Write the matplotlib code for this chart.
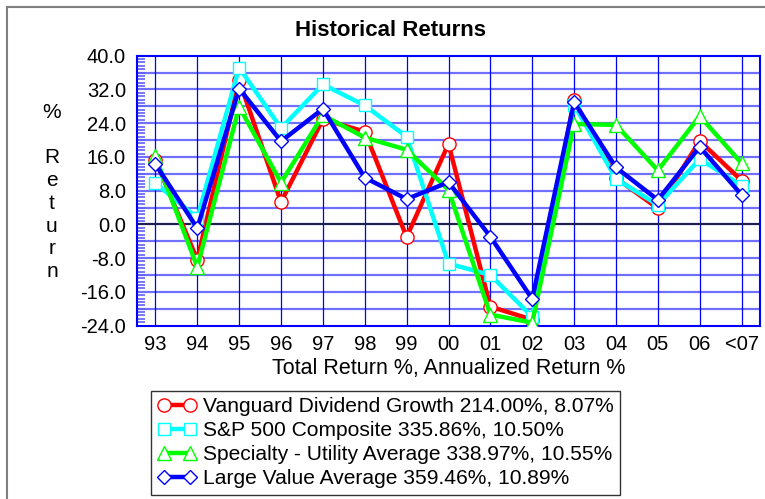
import matplotlib
matplotlib.use("Agg")
import matplotlib.pyplot as plt
from matplotlib.lines import Line2D
from matplotlib.ticker import MultipleLocator
import numpy as np

plt.rcParams['font.family'] = ['Liberation Sans', 'DejaVu Sans']

years = ["93", "94", "95", "96", "97", "98", "99", "00", "01", "02", "03", "04", "05", "06", "<07"]
vanguard = [15.3, -8.4, 34.2, 5.3, 24.9, 22.0, -3.0, 19.1, -19.5, -22.6, 29.5, 11.0, 3.8, 19.8, 10.4]
sp500 = [9.8, 1.5, 37.2, 22.8, 33.2, 28.2, 20.8, -9.3, -12.0, -21.9, 28.4, 10.8, 4.6, 15.5, 9.2]
utility = [16.1, -10.1, 27.9, 9.9, 25.9, 20.6, 17.7, 8.2, -21.4, -23.3, 23.8, 23.6, 12.8, 25.7, 14.5]
large_value = [14.3, -0.9, 32.2, 19.7, 27.4, 11.1, 6.0, 10.0, -2.9, -17.7, 29.0, 13.5, 5.8, 18.4, 7.0]

series = [
    ("Vanguard Dividend Growth 214.00%, 8.07%", vanguard, "#ff0000", "o", 9.5),
    ("S&P 500 Composite 335.86%, 10.50%", sp500, "#00ffff", "s", 9.0),
    ("Specialty - Utility Average 338.97%, 10.55%", utility, "#00ff00", "^", 10.0),
    ("Large Value Average 359.46%, 10.89%", large_value, "#0000ff", "D", 7.5),
]

W, H = 765, 499
fig = plt.figure(figsize=(W / 100, H / 100), dpi=100)
ax = fig.add_axes([137 / W, 1 - 325.6 / H, (760 - 137) / W, (325.6 - 55.7) / H])

x = np.arange(len(years))
for label, vals, col, mk, ms in series:
    ax.plot(x, vals, color=col, lw=3.2, marker=mk, ms=ms, mfc="white", mec=col,
            mew=1.0, label=label, zorder=3, solid_joinstyle="miter")

ax.set_xlim(-0.44, len(years) - 1 + 0.44)
ax.set_ylim(-24, 40)
ax.set_xticks(x)
ax.set_xticklabels(years, fontsize=14.5)
ax.set_yticks(np.arange(-24, 40.1, 8))
ax.set_yticklabels([f"{v:.1f}" for v in np.arange(-24, 40.1, 8)], fontsize=14.5)
ax.yaxis.set_minor_locator(MultipleLocator(0.8))
ax.tick_params(axis="y", which="minor", direction="in", length=6, width=1.2, color="#6060ff", left=True)
ax.tick_params(axis="y", which="major", length=0, pad=8)
ax.tick_params(axis="x", which="major", length=0, pad=7)

# grid
for gy in np.arange(-20, 40, 4):
    ax.axhline(gy, color="#7070ff", lw=1.6, zorder=1)
for gx in x:
    ax.axvline(gx, color="#0000ff", lw=0.9, zorder=1)
ax.axhline(0, color="#202050", lw=1.5, zorder=2)

for sp in ax.spines.values():
    sp.set_color("#0000ff")
    sp.set_linewidth(1.5)

ax.set_xlabel("Total Return %, Annualized Return %", fontsize=15.5, labelpad=3)

fig.text(52 / W, 1 - 192 / H, "%\n\nR\ne\nt\nu\nr\nn", ha="center", va="center",
         fontsize=15, linespacing=1.25)
fig.text(391 / W, 1 - 30 / H, "Historical Returns", ha="center", va="center",
         fontsize=16, fontweight="bold")

leg = fig.legend(loc="upper left", bbox_to_anchor=(151 / W, 1 - 391 / H), borderaxespad=0,
                 fontsize=15.1, frameon=True, fancybox=False, edgecolor="black",
                 handlelength=1.85, handletextpad=0.35, labelspacing=0.24, borderpad=0.3,
                 numpoints=2)
leg.get_frame().set_linewidth(1.0)

# outer panel edges
fig.add_artist(Line2D([7 / W, 7 / W], [0, 1 - 7 / H], color="#808080", lw=1.5))
fig.add_artist(Line2D([7 / W, 1], [1 - 7 / H, 1 - 7 / H], color="#808080", lw=1.5))

fig.savefig("out.png", dpi=100)
